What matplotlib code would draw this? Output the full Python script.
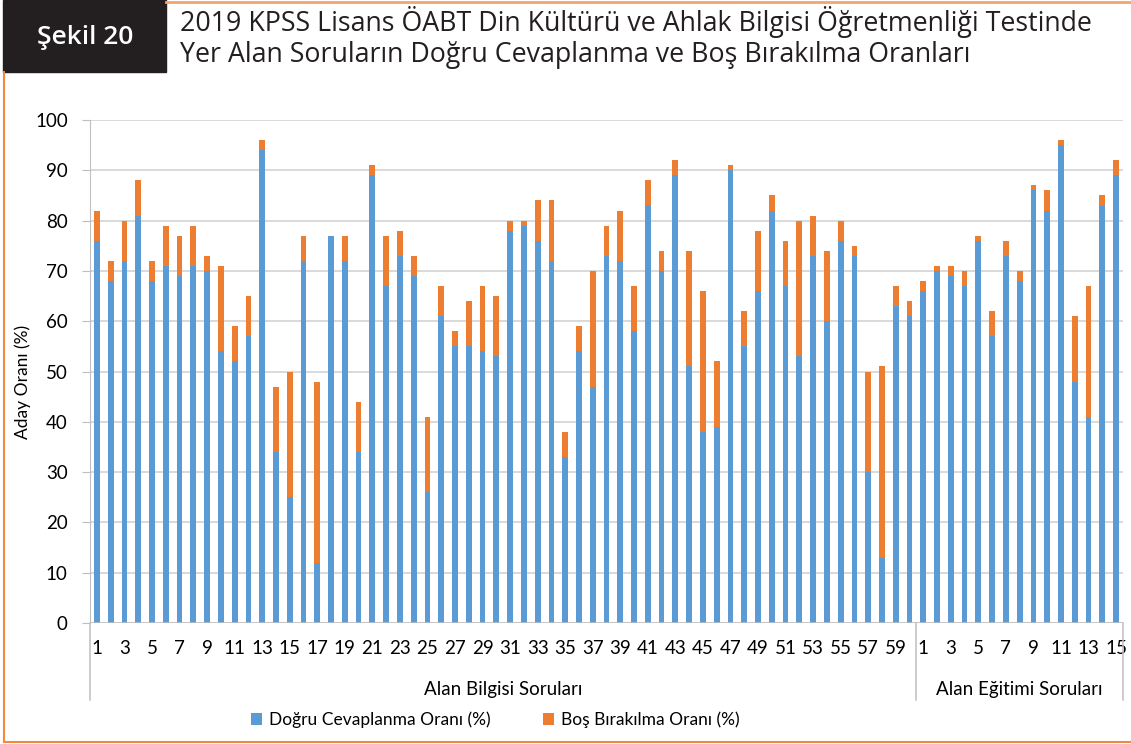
import matplotlib.pyplot as plt
import matplotlib.transforms as mtransforms
from matplotlib.patches import Rectangle
import numpy as np

# data: alan bilgisi (60 questions) + alan egitimi (15 questions)
bilgi_dogru = [76, 68, 72, 81, 68, 71, 69, 71, 70, 54, 52, 57, 94, 34, 25,
               72, 12, 77, 72, 34, 89, 67, 73, 69, 26, 61, 55, 55, 54, 53,
               78, 79, 76, 72, 33, 54, 47, 73, 72, 58, 83, 70, 89, 51, 38,
               39, 90, 55, 66, 82, 67, 53, 73, 60, 76, 73, 30, 13, 63, 61]
bilgi_toplam = [82, 72, 80, 88, 72, 79, 77, 79, 73, 71, 59, 65, 96, 47, 50,
                77, 48, 77, 77, 44, 91, 77, 78, 73, 41, 67, 58, 64, 67, 65,
                80, 80, 84, 84, 38, 59, 70, 79, 82, 67, 88, 74, 92, 74, 66,
                52, 91, 62, 78, 85, 76, 80, 81, 74, 80, 75, 50, 51, 67, 64]
egitim_dogru = [66, 70, 69, 67, 76, 57, 73, 68, 86, 82, 95, 48, 41, 83, 89]
egitim_toplam = [68, 71, 71, 70, 77, 62, 76, 70, 87, 86, 96, 61, 67, 85, 92]
gruplar = ["Alan Bilgisi Soruları", "Alan Eğitimi Soruları"]
seriler = ["Doğru Cevaplanma Oranı (%)", "Boş Bırakılma Oranı (%)"]

dogru = np.array(bilgi_dogru + egitim_dogru)
bos = np.array(bilgi_toplam + egitim_toplam) - dogru
etiket = [str(i + 1) for i in range(len(bilgi_dogru))] + \
         [str(i + 1) for i in range(len(egitim_dogru))]

BLUE = "#5B9BD5"
ORANGE = "#ED7D31"
FONT = "Lato"
TFONT = "Open Sans"

fig = plt.figure(figsize=(11.31, 7.44), dpi=100)
ax = fig.add_axes([90 / 1131, 1 - 623 / 744, 1033 / 1131, 503 / 744])

x = np.arange(len(dogru))
ax.bar(x, dogru, width=0.42, color=BLUE, label=seriler[0], zorder=3)
ax.bar(x, bos, width=0.42, bottom=dogru, color=ORANGE, label=seriler[1], zorder=3)

ax.set_xlim(-0.5, len(dogru) - 0.5)
ax.set_ylim(0, 100)
ax.set_yticks(range(0, 101, 10))
ax.yaxis.grid(True, color="#D0D0D0", linewidth=1.1, zorder=0)
ax.tick_params(axis="y", length=6, color="#BFBFBF", pad=10, labelsize=13.5)
for t in ax.get_yticklabels():
    t.set_fontfamily(FONT)

odd = [i for i in x if int(etiket[i]) % 2 == 1]
ax.set_xticks(odd)
ax.set_xticklabels([etiket[i] for i in odd], fontsize=13.5, fontfamily=FONT)
ax.tick_params(axis="x", length=0, pad=12)

for s in ["top", "right", "bottom"]:
    ax.spines[s].set_visible(False)
ax.spines["left"].set_color("#BFBFBF")
ax.spines["left"].set_bounds(0, 100)
ax.axhline(0, color="#BFBFBF", linewidth=1.1, zorder=4)

ax.set_ylabel("Aday Oranı (%)", fontsize=12.5, fontfamily=FONT, labelpad=12)
ax.yaxis.set_label_coords(-0.057, 0.48)

# group separators under the axis
trans = mtransforms.blended_transform_factory(ax.transData, ax.transAxes)
n1 = len(bilgi_dogru)
for xs in [-0.5, n1 - 0.5, len(dogru) - 0.5]:
    ax.plot([xs, xs], [0, -0.153], color="#BFBFBF", linewidth=1.1,
            transform=trans, clip_on=False)
ax.text((n1 - 1) / 2, -0.133, gruplar[0], transform=trans, ha="center",
        va="center", fontsize=13.5, fontfamily=FONT)
ax.text(n1 + (len(egitim_dogru) - 1) / 2, -0.133, gruplar[1], transform=trans,
        ha="center", va="center", fontsize=13.5, fontfamily=FONT)

leg = fig.legend(loc="center", bbox_to_anchor=(495 / 1131, 1 - 720 / 744),
                 ncol=2, frameon=False, handlelength=0.65,
                 handleheight=0.65, columnspacing=3.0, handletextpad=0.4,
                 prop={"family": FONT, "size": 12.5})

# header and frame
fig.patches.append(Rectangle((3 / 1131, 1 - 72 / 744), 163 / 1131, 72 / 744,
                             transform=fig.transFigure, color="#231F20"))
fig.text(85 / 1131, 1 - 37 / 744, "Şekil 20", color="white", fontsize=19,
         fontfamily=TFONT, fontweight="semibold", ha="center", va="center")
fig.text(180 / 1131, 1 - 22 / 744,
         "2019 KPSS Lisans ÖABT Din Kültürü ve Ahlak Bilgisi Öğretmenliği Testinde",
         fontsize=19.3, fontfamily=TFONT, ha="left", va="center", color="#231F20")
fig.text(180 / 1131, 1 - 55 / 744,
         "Yer Alan Soruların Doğru Cevaplanma ve Boş Bırakılma Oranları",
         fontsize=19.3, fontfamily=TFONT, ha="left", va="center", color="#231F20")
fig.lines.append(plt.Line2D([166 / 1131, 1], [1 - 1.5 / 744, 1 - 1.5 / 744],
                            transform=fig.transFigure, color="#F5A46B", linewidth=2))
fig.lines.append(plt.Line2D([3.5 / 1131, 3.5 / 1131], [1 - 72 / 744, 1 - 741.5 / 744],
                            transform=fig.transFigure, color="#F08A3E", linewidth=1.5))
fig.lines.append(plt.Line2D([3.5 / 1131, 1], [1 - 741.5 / 744, 1 - 741.5 / 744],
                            transform=fig.transFigure, color="#F08A3E", linewidth=1.5))

fig.savefig("out.png", dpi=100)
